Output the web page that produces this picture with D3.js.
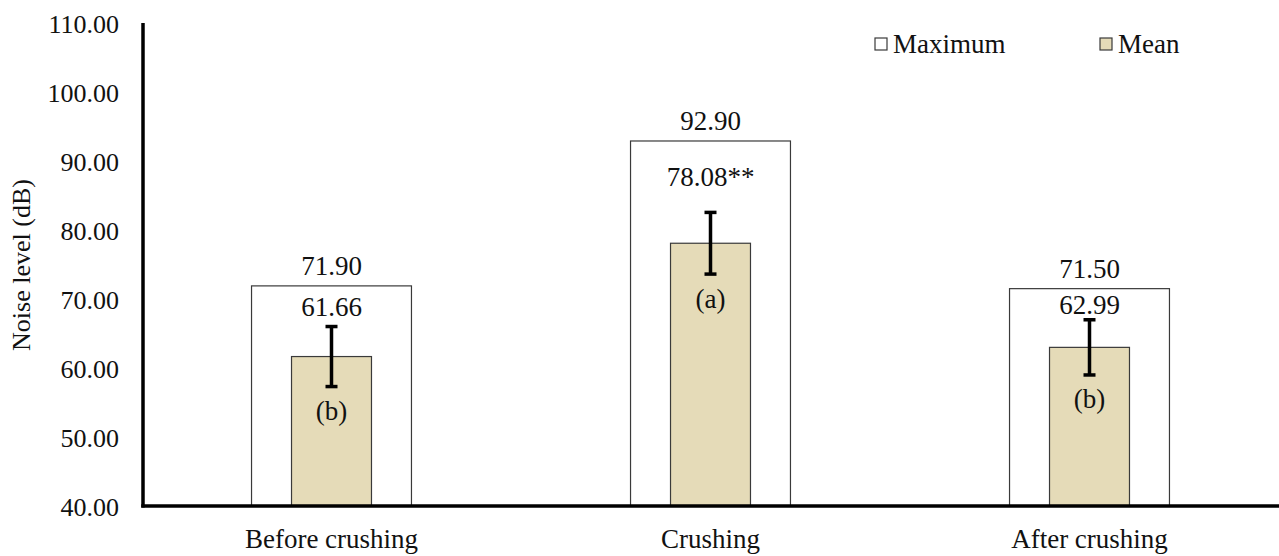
<!DOCTYPE html>
<html>
<head>
<meta charset="utf-8">
<script src="https://cdn.jsdelivr.net/npm/d3@7"></script>
<style>
  html, body { margin: 0; padding: 0; background: #fff; }
  svg text { font-family: "Liberation Serif", "Tinos", "Times New Roman", "DejaVu Serif", serif; }
</style>
</head>
<body>
<svg id="chart" width="1279" height="556"></svg>
<script>
// Noise level measurements by crushing stage
const categories = ["Before crushing", "Crushing", "After crushing"];
const maximumValues = [71.90, 92.90, 71.50];
const meanValues = [61.66, 78.08, 62.99];
const sdValues = [4.35, 4.47, 4.00];
const meanLabels = ["61.66", "78.08**", "62.99"];
const groupLetters = ["(b)", "(a)", "(b)"];
const yTicks = [40, 50, 60, 70, 80, 90, 100, 110];
const seriesNames = ["Maximum", "Mean"];

const W = 1279, H = 556;
const FONT = '"Liberation Serif", "Tinos", "Times New Roman", "DejaVu Serif", serif';
const svg = d3.select("#chart");

const x = d3.scaleBand().domain(categories).range([142, 1279]).paddingInner(0).paddingOuter(0);
const y = d3.scaleLinear().domain([40, 110]).range([506, 23]);

const maxW = x.bandwidth() * 0.422;
const meanW = x.bandwidth() * 0.211;
const cx = c => x(c) + x.bandwidth() / 2;

const meanFill = "#e5dbb8";
const barStroke = "#3a3a3a";

// Y axis tick labels
const yAxis = d3.axisLeft(y).tickValues(yTicks).tickFormat(d3.format(".2f")).tickSize(0).tickPadding(0);
const yg = svg.append("g").attr("transform", "translate(119,0)").call(yAxis);
yg.attr("font-family", null).attr("font-size", null);
yg.select(".domain").remove();
yg.selectAll("text")
  .style("font-family", FONT)
  .attr("font-size", 26)
  .attr("fill", "#111")
  .attr("dy", "0.35em");

// Y axis title
svg.append("text")
  .attr("transform", "translate(30,265) rotate(-90)")
  .attr("text-anchor", "middle")
  .style("font-family", FONT)
  .attr("font-size", 26)
  .attr("fill", "#111")
  .text("Noise level (dB)");

// Maximum bars
svg.selectAll("rect.max").data(categories).join("rect")
  .attr("class", "max")
  .attr("x", c => cx(c) - maxW / 2)
  .attr("width", maxW)
  .attr("y", (c, i) => y(maximumValues[i]))
  .attr("height", (c, i) => y(40) - y(maximumValues[i]))
  .attr("fill", "#fff")
  .attr("stroke", barStroke)
  .attr("stroke-width", 1.2);

// Mean bars
svg.selectAll("rect.mean").data(categories).join("rect")
  .attr("class", "mean")
  .attr("x", c => cx(c) - meanW / 2)
  .attr("width", meanW)
  .attr("y", (c, i) => y(meanValues[i]))
  .attr("height", (c, i) => y(40) - y(meanValues[i]))
  .attr("fill", meanFill)
  .attr("stroke", barStroke)
  .attr("stroke-width", 1.2);

// Error bars (mean ± SD)
const capHalf = 6;
const err = svg.append("g").attr("stroke", "#000").attr("stroke-width", 3.5);
categories.forEach((c, i) => {
  const hi = y(meanValues[i] + sdValues[i]);
  const lo = y(meanValues[i] - sdValues[i]);
  const xc = cx(c);
  err.append("line").attr("x1", xc).attr("x2", xc).attr("y1", hi).attr("y2", lo);
  err.append("line").attr("x1", xc - capHalf).attr("x2", xc + capHalf).attr("y1", hi).attr("y2", hi);
  err.append("line").attr("x1", xc - capHalf).attr("x2", xc + capHalf).attr("y1", lo).attr("y2", lo);
});

// Value labels
const fmt = d3.format(".2f");
svg.selectAll("text.maxlab").data(categories).join("text")
  .attr("class", "maxlab")
  .attr("x", cx)
  .attr("y", (c, i) => y(maximumValues[i]) - 20)
  .attr("dy", "0.35em")
  .attr("text-anchor", "middle")
  .style("font-family", FONT)
  .attr("font-size", 27)
  .attr("fill", "#111")
  .text((c, i) => fmt(maximumValues[i]));

svg.selectAll("text.meanlab").data(categories).join("text")
  .attr("class", "meanlab")
  .attr("x", cx)
  .attr("y", (c, i) => (y(maximumValues[i]) + y(meanValues[i] + sdValues[i])) / 2)
  .attr("dy", "0.35em")
  .attr("text-anchor", "middle")
  .style("font-family", FONT)
  .attr("font-size", 27)
  .attr("fill", "#111")
  .text((c, i) => meanLabels[i]);

svg.selectAll("text.letter").data(categories).join("text")
  .attr("class", "letter")
  .attr("x", cx)
  .attr("y", (c, i) => y(meanValues[i] - sdValues[i]) + 24)
  .attr("dy", "0.35em")
  .attr("text-anchor", "middle")
  .style("font-family", FONT)
  .attr("font-size", 27)
  .attr("fill", "#111")
  .text((c, i) => groupLetters[i]);

// Axis lines
svg.append("line").attr("x1", 143).attr("x2", 143).attr("y1", 23).attr("y2", 507.5)
  .attr("stroke", "#000").attr("stroke-width", 3.5);
svg.append("line").attr("x1", 141.25).attr("x2", W).attr("y1", 506).attr("y2", 506)
  .attr("stroke", "#000").attr("stroke-width", 3.5);

// Category labels
const xAxis = d3.axisBottom(x).tickSize(0).tickPadding(0);
const xg = svg.append("g").attr("transform", "translate(0,548)").call(xAxis);
xg.attr("font-family", null).attr("font-size", null);
xg.select(".domain").remove();
xg.selectAll("text")
  .style("font-family", FONT)
  .attr("font-size", 27)
  .attr("fill", "#111")
  .attr("dy", 0);

// Legend
const legendX = [875, 1100];
const legendFill = ["#fff", meanFill];
const lg = svg.append("g");
seriesNames.forEach((name, i) => {
  lg.append("rect").attr("x", legendX[i]).attr("y", 38).attr("width", 12).attr("height", 12)
    .attr("fill", legendFill[i]).attr("stroke", barStroke).attr("stroke-width", 1.2);
  lg.append("text").attr("x", legendX[i] + 18).attr("y", 53)
    .style("font-family", FONT)
    .attr("font-size", 27).attr("fill", "#111").text(name);
});
</script>
</body>
</html>
